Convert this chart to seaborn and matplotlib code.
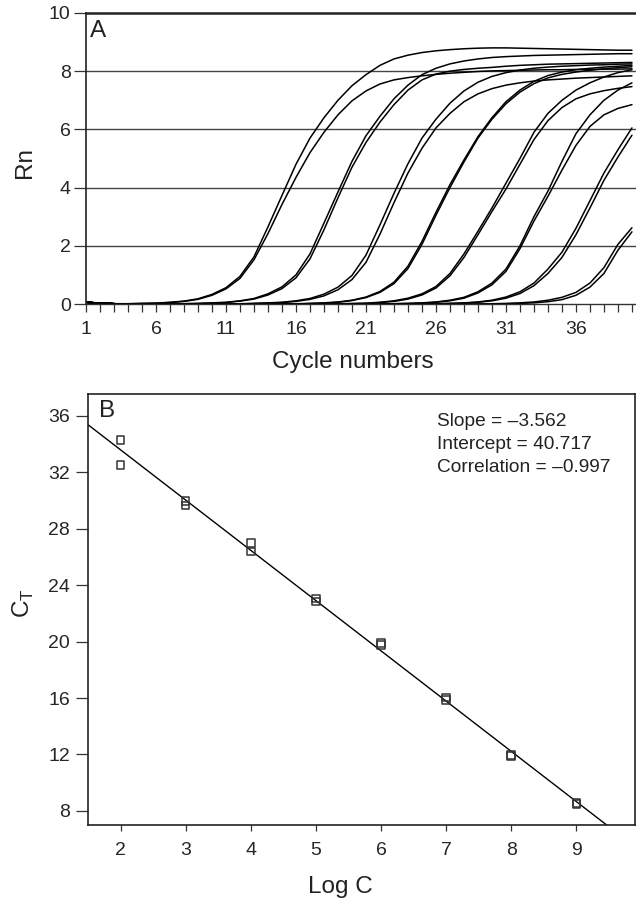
import numpy as np
import pandas as pd
import seaborn as sns
import matplotlib.pyplot as plt

sns.set_style("ticks")
plt.rcParams["font.family"] = ["Liberation Sans", "DejaVu Sans"]

# panel A: amplification curves, Rn per cycle (duplicates per dilution)
cycles = list(range(1, 41))
rn_1a = [0.06, 0.03, 0.01, 0.01, 0.02, 0.03, 0.06, 0.10, 0.18, 0.33,
         0.56, 0.95, 1.62, 2.65, 3.73, 4.80, 5.70, 6.40, 7.00, 7.50,
         7.88, 8.20, 8.42, 8.55, 8.64, 8.70, 8.74, 8.77, 8.79, 8.80,
         8.80, 8.79, 8.78, 8.77, 8.76, 8.75, 8.74, 8.73, 8.72, 8.72]
rn_1b = [0.06, 0.03, 0.01, 0.01, 0.02, 0.03, 0.05, 0.09, 0.16, 0.30,
         0.52, 0.88, 1.52, 2.42, 3.42, 4.35, 5.20, 5.90, 6.50, 6.98,
         7.32, 7.56, 7.70, 7.78, 7.84, 7.89, 7.93, 7.96, 7.99, 8.01,
         8.02, 8.03, 8.04, 8.05, 8.05, 8.06, 8.06, 8.07, 8.07, 8.08]
rn_2a = [0.06, 0.03, 0.01, 0.00, 0.00, 0.00, 0.01, 0.01, 0.02, 0.04,
         0.06, 0.11, 0.19, 0.35, 0.59, 1.00, 1.72, 2.78, 3.85, 4.90,
         5.78, 6.45, 7.05, 7.52, 7.88, 8.10, 8.25, 8.35, 8.42, 8.47,
         8.50, 8.52, 8.54, 8.55, 8.56, 8.57, 8.58, 8.59, 8.60, 8.60]
rn_2b = [0.06, 0.03, 0.01, 0.00, 0.00, 0.00, 0.01, 0.01, 0.02, 0.03,
         0.05, 0.10, 0.17, 0.31, 0.53, 0.90, 1.55, 2.55, 3.65, 4.70,
         5.55, 6.25, 6.85, 7.35, 7.70, 7.90, 8.00, 8.06, 8.10, 8.13,
         8.17, 8.20, 8.22, 8.24, 8.25, 8.26, 8.27, 8.28, 8.29, 8.30]
rn_3a = [0.06, 0.03, 0.01, 0.00, 0.00, 0.00, 0.00, 0.00, 0.00, 0.00,
         0.00, 0.01, 0.02, 0.04, 0.06, 0.11, 0.19, 0.34, 0.58, 0.98,
         1.68, 2.72, 3.80, 4.82, 5.70, 6.35, 6.90, 7.32, 7.62, 7.82,
         7.95, 8.04, 8.10, 8.14, 8.17, 8.19, 8.21, 8.22, 8.24, 8.25]
rn_3b = [0.06, 0.03, 0.01, 0.00, 0.00, 0.00, 0.00, 0.00, 0.00, 0.00,
         0.00, 0.00, 0.02, 0.03, 0.05, 0.09, 0.16, 0.28, 0.49, 0.84,
         1.43, 2.40, 3.48, 4.50, 5.35, 6.05, 6.55, 6.95, 7.22, 7.40,
         7.52, 7.60, 7.66, 7.70, 7.73, 7.76, 7.78, 7.80, 7.82, 7.84]
rn_4a = [0.06, 0.03, 0.01, 0.00, 0.00, 0.00, 0.00, 0.00, 0.00, 0.00,
         0.00, 0.00, 0.00, 0.00, 0.00, 0.01, 0.02, 0.04, 0.07, 0.13,
         0.24, 0.43, 0.75, 1.30, 2.15, 3.15, 4.10, 4.95, 5.75, 6.40,
         6.95, 7.35, 7.65, 7.85, 7.97, 8.05, 8.10, 8.14, 8.17, 8.20]
rn_4b = [0.06, 0.03, 0.01, 0.00, 0.00, 0.00, 0.00, 0.00, 0.00, 0.00,
         0.00, 0.00, 0.00, 0.00, 0.00, 0.00, 0.02, 0.03, 0.06, 0.12,
         0.22, 0.40, 0.70, 1.22, 2.05, 3.05, 4.00, 4.88, 5.70, 6.35,
         6.88, 7.28, 7.57, 7.77, 7.89, 7.97, 8.03, 8.08, 8.12, 8.15]
rn_5a = [0.06, 0.03, 0.01, 0.00, 0.00, 0.00, 0.00, 0.00, 0.00, 0.00,
         0.00, 0.00, 0.00, 0.00, 0.00, 0.00, 0.00, 0.00, 0.01, 0.02,
         0.03, 0.06, 0.11, 0.20, 0.35, 0.60, 1.05, 1.72, 2.50, 3.30,
         4.15, 5.00, 5.90, 6.55, 7.00, 7.35, 7.60, 7.80, 7.95, 8.05]
rn_5b = [0.06, 0.03, 0.01, 0.00, 0.00, 0.00, 0.00, 0.00, 0.00, 0.00,
         0.00, 0.00, 0.00, 0.00, 0.00, 0.00, 0.00, 0.00, 0.00, 0.01,
         0.02, 0.05, 0.09, 0.17, 0.31, 0.55, 0.97, 1.60, 2.38, 3.18,
         3.95, 4.80, 5.65, 6.30, 6.75, 7.05, 7.22, 7.33, 7.41, 7.47]
rn_6a = [0.06, 0.03, 0.01, 0.00, 0.00, 0.00, 0.00, 0.00, 0.00, 0.00,
         0.00, 0.00, 0.00, 0.00, 0.00, 0.00, 0.00, 0.00, 0.00, 0.00,
         0.00, 0.00, 0.01, 0.02, 0.04, 0.07, 0.13, 0.23, 0.42, 0.72,
         1.20, 2.00, 3.00, 3.88, 4.90, 5.85, 6.50, 7.00, 7.35, 7.60]
rn_6b = [0.06, 0.03, 0.01, 0.00, 0.00, 0.00, 0.00, 0.00, 0.00, 0.00,
         0.00, 0.00, 0.00, 0.00, 0.00, 0.00, 0.00, 0.00, 0.00, 0.00,
         0.00, 0.00, 0.01, 0.02, 0.03, 0.06, 0.11, 0.20, 0.38, 0.66,
         1.12, 1.90, 2.85, 3.70, 4.60, 5.45, 6.10, 6.50, 6.72, 6.85]
rn_7a = [0.06, 0.03, 0.01, 0.00, 0.00, 0.00, 0.00, 0.00, 0.00, 0.00,
         0.00, 0.00, 0.00, 0.00, 0.00, 0.00, 0.00, 0.00, 0.00, 0.00,
         0.00, 0.00, 0.00, 0.00, 0.00, 0.01, 0.02, 0.04, 0.07, 0.13,
         0.24, 0.42, 0.72, 1.20, 1.78, 2.60, 3.55, 4.50, 5.30, 6.05]
rn_7b = [0.06, 0.03, 0.01, 0.00, 0.00, 0.00, 0.00, 0.00, 0.00, 0.00,
         0.00, 0.00, 0.00, 0.00, 0.00, 0.00, 0.00, 0.00, 0.00, 0.00,
         0.00, 0.00, 0.00, 0.00, 0.00, 0.01, 0.02, 0.03, 0.06, 0.11,
         0.20, 0.36, 0.63, 1.05, 1.60, 2.38, 3.30, 4.25, 5.05, 5.80]
rn_8a = [0.06, 0.03, 0.01, 0.00, 0.00, 0.00, 0.00, 0.00, 0.00, 0.00,
         0.00, 0.00, 0.00, 0.00, 0.00, 0.00, 0.00, 0.00, 0.00, 0.00,
         0.00, 0.00, 0.00, 0.00, 0.00, 0.00, 0.00, 0.00, 0.00, 0.01,
         0.02, 0.04, 0.07, 0.13, 0.23, 0.40, 0.72, 1.25, 2.05, 2.62]
rn_8b = [0.06, 0.03, 0.01, 0.00, 0.00, 0.00, 0.00, 0.00, 0.00, 0.00,
         0.00, 0.00, 0.00, 0.00, 0.00, 0.00, 0.00, 0.00, 0.00, 0.00,
         0.00, 0.00, 0.00, 0.00, 0.00, 0.00, 0.00, 0.00, 0.00, 0.00,
         0.01, 0.02, 0.04, 0.08, 0.15, 0.30, 0.58, 1.05, 1.85, 2.48]
cycle_labels = ["1", "6", "11", "16", "21", "26", "31", "36"]

# panel B: standard curve
log_c = [2, 2, 3, 3, 4, 4, 5, 5, 6, 6, 7, 7, 8, 8, 9, 9]
ct = [34.3, 32.5, 29.95, 29.65, 27.0, 26.4, 23.05, 22.85,
      19.9, 19.75, 16.05, 15.85, 11.95, 11.9, 8.55, 8.5]
slope = -3.562
intercept = 40.717
correlation = -0.997

curves = {"1a": rn_1a, "1b": rn_1b, "2a": rn_2a, "2b": rn_2b,
          "3a": rn_3a, "3b": rn_3b, "4a": rn_4a, "4b": rn_4b,
          "5a": rn_5a, "5b": rn_5b, "6a": rn_6a, "6b": rn_6b,
          "7a": rn_7a, "7b": rn_7b, "8a": rn_8a, "8b": rn_8b}
amp_df = pd.concat(
    [pd.DataFrame({"cycle": cycles, "rn": v, "well": k}) for k, v in curves.items()],
    ignore_index=True,
)

fig = plt.figure(figsize=(6.36, 9.0), dpi=100)
ax1 = fig.add_axes([0.1352, 0.6622, 0.8648, 0.3234])
ax2 = fig.add_axes([0.1384, 0.0833, 0.86, 0.4789])

# --- panel A
for yv in [2, 4, 6, 8]:
    ax1.axhline(yv, color="#444444", lw=1.0, zorder=1)
sns.lineplot(data=amp_df, x="cycle", y="rn", units="well", estimator=None,
             color="black", lw=1.1, legend=False, ax=ax1, zorder=2)
ax1.set_xlim(1, 40.29)
ax1.set_ylim(0, 10)
ax1.set_xticks(cycles)
ax1.set_xticklabels([str(c) if str(c) in cycle_labels else "" for c in cycles])
ax1.set_yticks([0, 2, 4, 6, 8, 10])
ax1.tick_params(axis="x", length=5.5, width=0.9, pad=7, labelsize=14, color="#333333")
ax1.tick_params(axis="y", length=8.5, width=0.9, pad=2.5, labelsize=14, color="#333333")
ax1.spines["right"].set_visible(False)
ax1.spines["top"].set_linewidth(1.8)
ax1.spines["top"].set_color("#222222")
ax1.spines["left"].set_linewidth(1.2)
ax1.spines["left"].set_color("#222222")
ax1.spines["bottom"].set_linewidth(1.0)
ax1.spines["bottom"].set_color("#333333")
ax1.set_xlabel("Cycle numbers", fontsize=17.5, color="#222222")
ax1.xaxis.set_label_coords(0.485, -0.163)
ax1.set_ylabel("")
fig.text(25 / 636, 1 - 163 / 900, "Rn", rotation=90, ha="center", va="center",
         fontsize=17.5, color="#222222")
ax1.text(0.007, 0.975, "A", transform=ax1.transAxes, fontsize=17.5,
         ha="left", va="top", color="#222222")

# --- panel B
ax2.axline((0, intercept), slope=slope, color="black", lw=1.0, zorder=2)
sns.scatterplot(x=log_c, y=ct, marker="s", s=30, facecolor="none",
                edgecolor="#333333", linewidth=1.1, ax=ax2, zorder=3)
ax2.set_xlim(1.5, 9.9)
ax2.set_ylim(7.0, 37.55)
ax2.set_xticks(range(2, 10))
ax2.set_yticks(range(8, 37, 4))
ax2.tick_params(axis="x", length=4, width=0.9, pad=8, labelsize=14, color="#333333")
ax2.tick_params(axis="y", length=9, width=0.9, pad=4, labelsize=14, color="#333333")
for sp in ax2.spines.values():
    sp.set_linewidth(1.2)
    sp.set_color("#222222")
ax2.set_xlabel("Log C", fontsize=17.5, color="#222222")
ax2.xaxis.set_label_coords(0.461, -0.118)
ax2.set_ylabel("")
fig.text(23 / 636, 1 - 603 / 900, r"C$_\mathregular{T}$", rotation=90,
         ha="center", va="center", fontsize=17.5, color="#222222")
ax2.text(0.02, 0.985, "B", transform=ax2.transAxes, fontsize=17.5,
         ha="left", va="top", color="#222222")
ax2.text(0.638, 0.957,
         f"Slope = \u2013{abs(slope):.3f}\nIntercept = {intercept:.3f}\n"
         f"Correlation = \u2013{abs(correlation):.3f}",
         transform=ax2.transAxes, fontsize=13.8, ha="left", va="top",
         linespacing=1.48, color="#222222")

fig.savefig("out.png", dpi=100)
